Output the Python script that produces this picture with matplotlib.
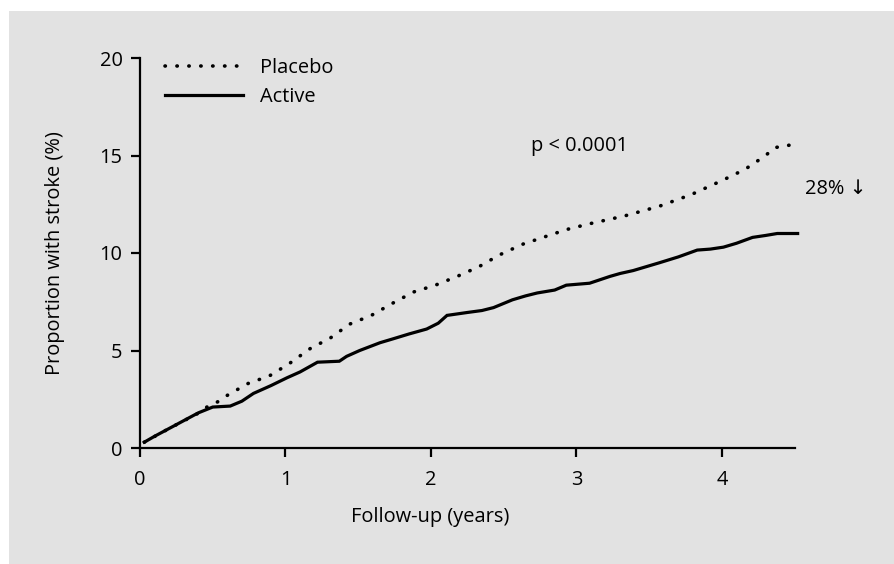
import matplotlib.pyplot as plt

# cumulative stroke incidence (%) by follow-up year
placebo_t = [0.03, 0.2, 0.39, 0.46, 0.53, 0.6, 0.74, 0.89, 1.03, 1.17, 1.31, 1.44, 1.59,
             1.73, 1.88, 2.03, 2.18, 2.33, 2.47, 2.63, 2.77, 2.93, 3.09, 3.33, 3.57,
             3.79, 4.01, 4.16, 4.3, 4.36, 4.52]
placebo_y = [0.3, 1.0, 1.74, 2.1, 2.35, 2.7, 3.3, 3.7, 4.35, 5.1, 5.65, 6.35, 6.8,
             7.4, 8.0, 8.35, 8.8, 9.3, 9.9, 10.45, 10.8, 11.2, 11.5, 11.9, 12.4,
             13.0, 13.75, 14.3, 15.0, 15.4, 15.6]

active_t = [0.03, 0.1, 0.2, 0.3, 0.4, 0.5, 0.62, 0.7, 0.78, 0.9, 1.01, 1.1, 1.22, 1.37,
            1.42, 1.51, 1.65, 1.74, 1.85, 1.97, 2.05, 2.11, 2.25, 2.35, 2.43, 2.56,
            2.65, 2.73, 2.85, 2.93, 3.09, 3.15, 3.23, 3.3, 3.39, 3.48, 3.57, 3.7,
            3.83, 3.92, 4.01, 4.1, 4.21, 4.3, 4.38, 4.52]
active_y = [0.3, 0.6, 1.0, 1.4, 1.8, 2.1, 2.15, 2.4, 2.8, 3.2, 3.6, 3.9, 4.4, 4.45,
            4.7, 5.0, 5.4, 5.6, 5.85, 6.1, 6.4, 6.8, 6.95, 7.05, 7.2, 7.6,
            7.8, 7.95, 8.1, 8.35, 8.45, 8.6, 8.8, 8.95, 9.1, 9.3, 9.5, 9.8,
            10.15, 10.2, 10.3, 10.5, 10.8, 10.9, 11.0, 11.0]

x_ticks = [0, 1, 2, 3, 4]
y_ticks = [0, 5, 10, 15, 20]

plt.rcParams['font.family'] = ['Open Sans', 'DejaVu Sans']
plt.rcParams['font.size'] = 14.4

fig = plt.figure(figsize=(8.95, 5.64), dpi=100)
bg = '#e2e2e2'
# grey panel, leaving a thin white strip at top and left
fig.patches.append(plt.Rectangle((9 / 895, 0), 1, 1 - 11 / 564, transform=fig.transFigure,
                                 facecolor=bg, edgecolor='none', zorder=-10))
ax = fig.add_axes([140 / 895, 116 / 564, 662 / 895, 390 / 564])
ax.set_facecolor('none')

ax.plot(placebo_t, placebo_y, color='black', lw=2.6,
        linestyle=(0, (0.1, 3.2)), dash_capstyle='round', label='Placebo')
ax.plot(active_t, active_y, color='black', lw=2.3, solid_joinstyle='miter',
        label='Active')

ax.set_xlim(0, 4.55)
ax.set_ylim(0, 20)
ax.set_xticks(x_ticks)
ax.set_yticks(y_ticks)
ax.spines['top'].set_visible(False)
ax.spines['right'].set_visible(False)
ax.spines['bottom'].set_bounds(0, 4.5)
for s in ('left', 'bottom'):
    ax.spines[s].set_linewidth(1.6)
ax.tick_params(axis='both', direction='out', length=6.5, width=1.6)
ax.tick_params(axis='x', pad=9)
ax.tick_params(axis='y', pad=6)

ax.set_xlabel('Follow-up (years)')
ax.xaxis.set_label_coords((430 - 140) / 662, -0.151)
ax.set_ylabel('Proportion with stroke (%)')
ax.yaxis.set_label_coords(-0.113, 0.5)

ax.legend(loc='upper left', bbox_to_anchor=(0.026, 1.021), frameon=False,
          handlelength=3.9, handletextpad=0.85, labelspacing=0.45, borderaxespad=0)

ax.text(2.69, 15.5, 'p < 0.0001', ha='left', va='center')
ax.text(4.57, 13.3, '28% \u2193', ha='left', va='center', clip_on=False)

fig.savefig('out.png', dpi=100, facecolor='white')
